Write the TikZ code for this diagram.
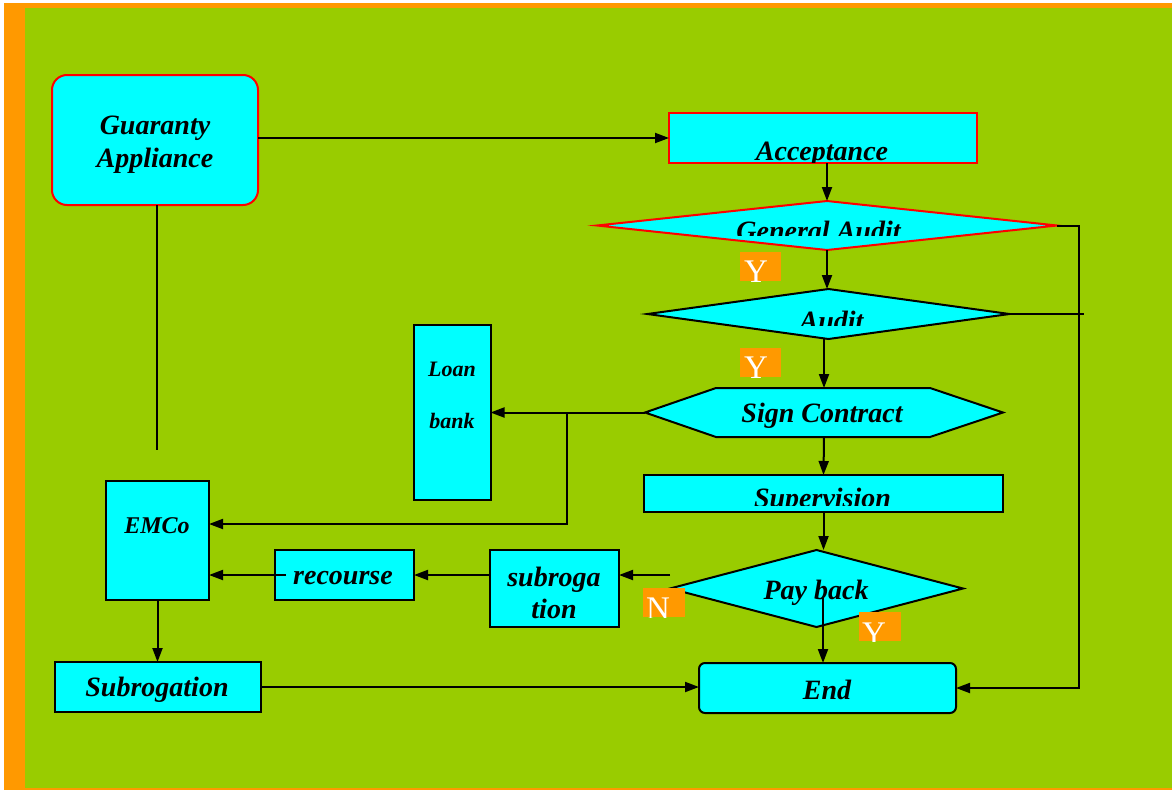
\documentclass[tikz,border=0pt]{standalone}
\usepackage{fontspec}
\setmainfont{Liberation Serif}
\usetikzlibrary{shapes.geometric,arrows.meta,calc}
\definecolor{bggreen}{HTML}{99CC00}
\definecolor{boxcyan}{HTML}{00FFFF}
\definecolor{orng}{HTML}{FF9900}
\definecolor{redline}{HTML}{FF0000}
\begin{document}
\begin{tikzpicture}[x=1pt,y=-1pt,
  box/.style={rectangle, draw=black, fill=boxcyan, line width=2pt, inner sep=0pt, outer sep=0pt},
  redbox/.style={box, draw=redline},
  dia/.style={diamond, draw=black, fill=boxcyan, line width=2pt, inner sep=0pt, outer sep=0pt},
  lbl/.style={font=\fontsize{28}{33}\selectfont\bfseries\itshape, inner sep=0pt, outer sep=0pt, align=center},
  conn/.style={line width=2pt, draw=black},
  arr/.style={conn, -{Triangle[length=14pt,width=10pt]}},
  yn/.style={font=\fontsize{33}{33}\selectfont, text=white, inner sep=0pt, outer sep=0pt, anchor=base west},
  ynbox/.style={fill=orng},
]
\useasboundingbox (0,0) rectangle (1172,790);
\fill[white] (0,0) rectangle (1172,790);
\fill[orng] (4,3) rectangle (1172,790);
\fill[bggreen] (25,8) rectangle (1172,788);

% boxes
\node[redbox, rounded corners=15pt, minimum width=206, minimum height=130] (gua) at (155,140) {};
\node[lbl] (guaT) at (155,145) {Guaranty\\Appliance};
\node[redbox, minimum width=308, minimum height=50] (acc) at (823,138) {};
\begin{scope}
  \clip (669,113) rectangle (977,162);
  \node[lbl, anchor=base] (accT) at (822,160) {Acceptance};
\end{scope}

\node[dia, draw=redline, minimum width=460, minimum height=49] (ga) at (827,225.5) {};
\begin{scope}
  \clip (597,200) rectangle (1058,235);
  \node[lbl, anchor=base] (gaT) at (818.5,240.5) {General Audit};
\end{scope}

\node[dia, minimum width=362, minimum height=50] (ad) at (828.5,314) {};
\begin{scope}
  \clip (649,288) rectangle (1012,325);
  \node[lbl, anchor=base] (adT) at (831.5,330.5) {Audit};
\end{scope}

\node[rectangle, inner sep=0pt, outer sep=0pt, minimum width=358, minimum height=49] (sc) at (824,412.5) {};
\draw[line width=2pt, fill=boxcyan] (sc.west) -- ($(sc.north west)+(71,0)$) -- ($(sc.north east)+(-73,0)$) -- (sc.east) -- ($(sc.south east)+(-73,0)$) -- ($(sc.south west)+(71,0)$) -- cycle;
\node[lbl] (scT) at (822,416) {Sign Contract};

\node[box, minimum width=359, minimum height=37] (sv) at (823.5,493.5) {};
\begin{scope}
  \clip (644,475) rectangle (1003,505);
  \node[lbl, anchor=base] (svT) at (822.5,507) {Supervision};
\end{scope}

\node[dia, minimum width=293, minimum height=77] (pb) at (816.5,588.5) {};
\node[lbl] (pbT) at (816,593) {Pay back};

\node[box, minimum width=77, minimum height=175] (lb) at (452,412.5) {};
\node[lbl, font=\fontsize{22}{52}\selectfont\bfseries\itshape] (lbT) at (452,395) {Loan\\bank};

\node[box, minimum width=103, minimum height=119] (em) at (157.5,540.5) {};
\node[lbl, font=\fontsize{24}{28}\selectfont\bfseries\itshape] (emT) at (157,526) {EMCo};

\node[box, minimum width=139, minimum height=50] (rec) at (344.5,575) {};
\node[lbl] (recT) at (343,578) {recourse};
\node[box, minimum width=129, minimum height=77] (sub) at (554.5,588.5) {};
\node[lbl, font=\fontsize{28}{32}\selectfont\bfseries\itshape] (subT) at (554,593) {subroga\\tion};
\node[box, minimum width=206, minimum height=50] (subr) at (158,687) {};
\node[lbl] (subrT) at (157,690) {Subrogation};
\node[box, rounded corners=6pt, minimum width=257, minimum height=50] (end) at (827.5,688) {};
\node[lbl] (endT) at (827,690) {End};

% connectors
\coordinate (gdn) at (157,450);
\draw[conn] (gdn |- gua.south) -- (gdn);
\draw[arr] (acc.west -| gua.east) -- (acc.west);
\draw[arr] (ga.north |- acc.south) -- (ga.north);
\draw[arr] (ga.south) -- (ga.south |- ad.north);
\draw[arr] (sc.north |- ad.south) -- (sc.north);
\draw[arr] (sc.west) -- (lb.east |- sc.west);
\coordinate (br) at (567,413);
\coordinate (brd) at (567,524);
\draw[arr] (br) -- (brd) -- (brd -| em.east);
\draw[arr] (sc.south) -- (sv.north);
\draw[arr] (sv.south) -- (sv.south |- pb.north);
\coordinate (pbY) at (823,598);
\draw[arr] (pbY) -- (pbY |- end.north);
\coordinate (pbN) at (670,575);
\draw[arr] (pbN) -- (pbN -| sub.east);
\draw[arr] (rec.east -| sub.west) -- (rec.east);
\draw[arr] ($(rec.west)+(11,0)$) -- (rec.west -| em.east);
\draw[arr] (em.south) -- (em.south |- subr.north);
\draw[arr] (subr.east) -- (subr.east -| end.west);
\coordinate (rt) at (1079,225.5);
\draw[arr] (ga.east) -- (rt) -- (rt |- end.east) -- (end.east);
\coordinate (adr) at (1084,314);
\draw[conn] (ad.east) -- (adr);

% Y / N labels
\fill[ynbox] (740,252) rectangle (781,281);
\begin{scope}\clip (740,252) rectangle (781,281);
  \node[yn] (y1) at (744,282) {Y};\end{scope}
\fill[ynbox] (740,348) rectangle (781,377);
\begin{scope}\clip (740,348) rectangle (781,377);
  \node[yn] (y2) at (744,378) {Y};\end{scope}
\fill[ynbox] (643,588) rectangle (685,617);
\begin{scope}\clip (643,588) rectangle (685,617);
  \node[yn] (n1) at (646,619) {N};\end{scope}
\fill[ynbox] (859,612) rectangle (901,641);
\begin{scope}\clip (859,612) rectangle (901,641);
  \node[yn] (y3) at (862,644) {Y};\end{scope}
\end{tikzpicture}
\end{document}
